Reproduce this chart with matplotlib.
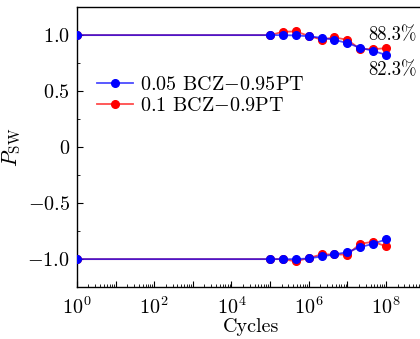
import matplotlib
matplotlib.use("Agg")
import math
import matplotlib.pyplot as plt
from matplotlib.ticker import LogLocator, FixedLocator, MultipleLocator, FuncFormatter, NullFormatter

plt.rcParams['font.family'] = 'serif'
plt.rcParams['font.serif'] = ['cmr10']
plt.rcParams['mathtext.fontset'] = 'cm'
plt.rcParams['axes.unicode_minus'] = False

# cycles: 1, then 1e5 .. 1e8 in 1/3-decade steps
cycles = [1, 1e5, 2.15e5, 4.64e5, 1e6, 2.15e6, 4.64e6, 1e7, 2.15e7, 4.64e7, 1e8]

bcz005_up = [1.0, 1.0, 1.0, 0.997, 0.99, 0.976, 0.958, 0.929, 0.887, 0.86, 0.823]
bcz005_down = [-1.0, -1.0, -1.0, -1.0, -0.994, -0.976, -0.958, -0.938, -0.893, -0.863, -0.824]
bcz01_up = [1.0, 1.0, 1.03, 1.033, 0.993, 0.96, 0.98, 0.958, 0.875, 0.875, 0.883]
bcz01_down = [-1.0, -1.0, -1.0, -1.02, -0.99, -0.958, -0.958, -0.96, -0.863, -0.845, -0.885]

fs = 14.5

fig = plt.figure(figsize=(4.2, 3.39), dpi=100)
ax = fig.add_axes([0.183, 0.153, 0.828, 0.826])

red_line = (1, 0, 0, 0.7)
blue_line = (0, 0, 1, 0.7)

ax.plot(cycles, bcz01_up, color=red_line, lw=1.3, marker='o', ms=5.5, mfc='red', mec='red',
        label='0.1 BCZ$-$0.9PT', zorder=3)
ax.plot(cycles, bcz01_down, color=red_line, lw=1.3, marker='o', ms=5.5, mfc='red', mec='red', zorder=3)
ax.plot(cycles, bcz005_up, color=blue_line, lw=1.3, marker='o', ms=5.5, mfc='blue', mec='blue',
        label='0.05 BCZ$-$0.95PT', zorder=4)
ax.plot(cycles, bcz005_down, color=blue_line, lw=1.3, marker='o', ms=5.5, mfc='blue', mec='blue', zorder=4)

ax.set_xscale('log')
ax.set_xlim(1, 1e9)
ax.set_ylim(-1.25, 1.25)

ax.xaxis.set_major_locator(LogLocator(base=10, numticks=20))
ax.xaxis.set_minor_locator(LogLocator(base=10, subs=range(2, 10), numticks=20))
ax.xaxis.set_minor_formatter(NullFormatter())

def xfmt(v, pos):
    e = int(round(math.log10(v)))
    return r'$10^{%d}$' % e if e % 2 == 0 else ''
ax.xaxis.set_major_formatter(FuncFormatter(xfmt))

ax.yaxis.set_major_locator(FixedLocator([-1.0, -0.5, 0, 0.5, 1.0]))
ax.yaxis.set_minor_locator(MultipleLocator(0.25))
ylabels = {-1.0: r'$-1.0$', -0.5: r'$-0.5$', 0: r'$0$', 0.5: r'$0.5$', 1.0: r'$1.0$'}
ax.yaxis.set_major_formatter(FuncFormatter(lambda v, p: ylabels.get(round(v, 2), '')))

ax.tick_params(which='both', direction='in', labelsize=fs)
ax.tick_params(which='major', length=4, width=0.8)
ax.tick_params(which='minor', length=2.5, width=0.6)
ax.tick_params(axis='x', pad=7)
ax.tick_params(axis='y', pad=5)

for s in ax.spines.values():
    s.set_linewidth(1.0)

ax.set_xlabel('Cycles', fontsize=fs, labelpad=0)
ax.set_ylabel(r'$P_{\mathrm{SW}}$', fontsize=fs + 1, labelpad=3)

ax.text(10**7.53, 1.0, '88.3%', fontsize=13.5, ha='left', va='center')
ax.text(10**7.53, 0.69, '82.3%', fontsize=13.5, ha='left', va='center')

handles, labels = ax.get_legend_handles_labels()
ax.legend(handles[::-1], labels[::-1], loc='upper left', bbox_to_anchor=(0.058, 0.755),
          frameon=False, fontsize=fs, borderpad=0, borderaxespad=0,
          handlelength=1.8, handletextpad=0.35, labelspacing=0.15)

fig.savefig('out.png', dpi=100)
